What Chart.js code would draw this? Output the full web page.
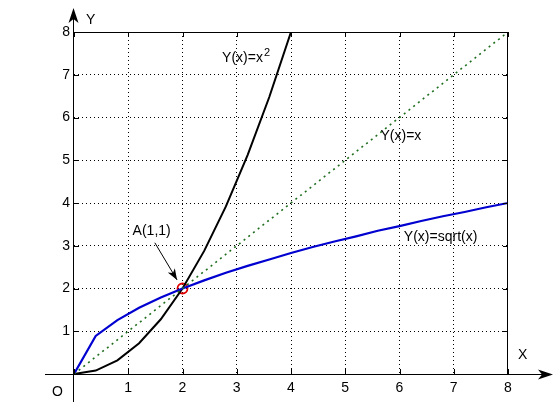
<!DOCTYPE html>
<html>
<head>
<meta charset="utf-8">
<script src="https://cdn.jsdelivr.net/npm/chart.js@4"></script>
<style>
  body { margin: 0; background: #fff; }
  #wrap { width: 560px; height: 420px; }
</style>
</head>
<body>
<div id="wrap"><canvas id="plot" width="560" height="420"></canvas></div>
<script>
// -------------------- Data --------------------
const xSamples = [0, 0.4, 0.8, 1.2, 1.6, 2, 2.4, 2.8, 3.2, 3.6, 4, 4.4, 4.8, 5.2, 5.6, 6, 6.4, 6.8, 7.2, 7.6, 8];
const sqrtValues = [0, 0.89, 1.26, 1.55, 1.79, 2, 2.19, 2.37, 2.53, 2.68, 2.83, 2.97, 3.1, 3.22, 3.35, 3.46, 3.58, 3.69, 3.79, 3.9, 4];
const squareX = [0, 0.4, 0.8, 1.2, 1.6, 2, 2.4, 2.8, 3.2, 3.6, 4];
const squareValues = [0, 0.08, 0.32, 0.72, 1.28, 2, 2.88, 3.92, 5.12, 6.48, 8];
const lineX = [0, 8];
const lineValues = [0, 8];
const pointA = [2, 2];
const tickValues = [0, 1, 2, 3, 4, 5, 6, 7, 8];

const FAMILY = "'Liberation Sans', Arial, sans-serif";
const FONT = "14px " + FAMILY;

function toPoints(xs, ys) {
  return xs.map((x, i) => ({ x: x, y: ys[i] }));
}

// -------------------- Decorations --------------------
const decorations = {
  id: "decorations",
  afterDraw(chart) {
    const ctx = chart.ctx;
    const xs = chart.scales.x, ys = chart.scales.y;
    const a = chart.chartArea;
    const px = v => xs.getPixelForValue(v);
    const py = v => ys.getPixelForValue(v);

    ctx.save();
    ctx.strokeStyle = "#000";
    ctx.fillStyle = "#000";
    ctx.lineWidth = 1;

    // box
    ctx.beginPath();
    ctx.moveTo(a.left, a.top + 0.5); ctx.lineTo(a.right, a.top + 0.5);
    ctx.moveTo(a.right - 0.5, a.top); ctx.lineTo(a.right - 0.5, a.bottom);
    ctx.stroke();

    // inward ticks
    ctx.beginPath();
    tickValues.forEach(v => {
      const x = Math.round(px(v)) + 0.5, y = Math.round(py(v)) + 0.5;
      ctx.moveTo(x, a.bottom); ctx.lineTo(x, a.bottom - 5);
      ctx.moveTo(x, a.top); ctx.lineTo(x, a.top + 5);
      ctx.moveTo(a.left, y); ctx.lineTo(a.left + 5, y);
      ctx.moveTo(a.right, y); ctx.lineTo(a.right - 5, y);
    });
    ctx.stroke();

    // axes with arrows
    const ox = Math.round(px(0)) - 0.5, oy = Math.round(py(0)) + 0.5;
    ctx.beginPath();
    ctx.moveTo(ox, 402); ctx.lineTo(ox, 14);
    ctx.moveTo(45, oy); ctx.lineTo(546, oy);
    ctx.stroke();

    ctx.beginPath();
    ctx.moveTo(ox, 8); ctx.lineTo(ox + 5, 23); ctx.lineTo(ox, 19); ctx.lineTo(ox - 5, 23); ctx.closePath();
    ctx.fill();
    ctx.beginPath();
    ctx.moveTo(553, oy); ctx.lineTo(538, oy - 5); ctx.lineTo(542, oy); ctx.lineTo(538, oy + 5); ctx.closePath();
    ctx.fill();

    // text
    ctx.font = FONT;
    ctx.textBaseline = "middle";
    ctx.textAlign = "left";
    ctx.fillText("Y", 86, 20);
    ctx.fillText("X", 518, 355);
    ctx.fillText("O", 52, 392);

    ctx.fillText("Y(x)=x", px(2.73), py(7.38));
    const w = ctx.measureText("Y(x)=x").width;
    ctx.font = "11px " + FAMILY;
    ctx.fillText("2", px(2.73) + w + 1, py(7.38) - 6);
    ctx.font = FONT;
    ctx.fillText("Y(x)=x", px(5.65), py(5.57));
    ctx.fillText("Y(x)=sqrt(x)", px(6.08), py(3.2));
    ctx.fillText("A(1,1)", px(1.08), py(3.35));

    // annotation arrow
    const sx = px(1.49), sy = py(3.07), tx = px(1.9), ty = py(2.2);
    ctx.beginPath();
    ctx.moveTo(sx, sy); ctx.lineTo(tx, ty);
    ctx.stroke();
    const ang = Math.atan2(ty - sy, tx - sx);
    ctx.beginPath();
    ctx.moveTo(tx, ty);
    ctx.lineTo(tx - 12 * Math.cos(ang - 0.35), ty - 12 * Math.sin(ang - 0.35));
    ctx.lineTo(tx - 8 * Math.cos(ang), ty - 8 * Math.sin(ang));
    ctx.lineTo(tx - 12 * Math.cos(ang + 0.35), ty - 12 * Math.sin(ang + 0.35));
    ctx.closePath();
    ctx.fill();
    ctx.restore();
  }
};

// -------------------- Chart --------------------
const gridColor = c => (c.tick && c.tick.value > 0 && c.tick.value < 8) ? "#000" : "rgba(0,0,0,0)";
const hideZero = v => (v === 0 ? "" : v);

new Chart(document.getElementById("plot"), {
  type: "line",
  data: {
    datasets: [
      { label: "Y(x)=x", data: toPoints(lineX, lineValues), borderColor: "#1e6e1e", borderWidth: 1.6, borderDash: [2, 4], pointRadius: 0 },
      { label: "Y(x)=sqrt(x)", data: toPoints(xSamples, sqrtValues), borderColor: "#0000d0", borderWidth: 2.2, pointRadius: 0 },
      { label: "Y(x)=x^2", data: toPoints(squareX, squareValues), borderColor: "#000", borderWidth: 2, pointRadius: 0 },
      { label: "A", data: [{ x: pointA[0], y: pointA[1] }], showLine: false, pointRadius: 5, pointBorderWidth: 1.8,
        pointBorderColor: "#e00000", pointBackgroundColor: "rgba(0,0,0,0)" }
    ]
  },
  options: {
    responsive: false,
    animation: false,
    devicePixelRatio: 1,
    layout: { padding: { left: 0, top: 32, right: 52, bottom: 0 } },
    plugins: { legend: { display: false }, tooltip: { enabled: false } },
    elements: { line: { tension: 0 } },
    scales: {
      x: {
        type: "linear", min: 0, max: 8,
        afterFit: s => { s.height = 46; },
        ticks: { stepSize: 1, color: "#000", font: { family: FAMILY, size: 14 }, padding: 6, callback: hideZero },
        grid: { drawTicks: false, color: gridColor, lineWidth: 1 },
        border: { display: false, dash: [1, 3] }
      },
      y: {
        type: "linear", min: 0, max: 8,
        afterFit: s => { s.width = 74; },
        ticks: { stepSize: 1, color: "#000", font: { family: FAMILY, size: 14 }, padding: 4, callback: hideZero },
        grid: { drawTicks: false, color: gridColor, lineWidth: 1 },
        border: { display: false, dash: [1, 3] }
      }
    }
  },
  plugins: [decorations]
});
</script>
</body>
</html>
